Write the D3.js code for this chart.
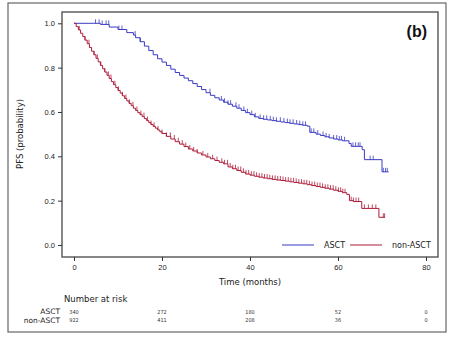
<!DOCTYPE html>
<html>
<head>
<meta charset="utf-8">
<script src="https://cdn.jsdelivr.net/npm/d3@7"></script>
<style>
  body { margin: 0; background: #fff; }
  svg { font-family: "DejaVu Sans", sans-serif; }
</style>
</head>
<body>
<div id="chart"></div>
<script>
// kaplan-meier curves, points (months, probability)
const asctTime = [0, 4.5, 6, 8, 10, 12, 13.5, 14, 15, 16, 17, 18, 19, 20, 21, 22, 23, 24, 25, 26, 27, 28, 29, 30, 31, 32, 33, 34, 35, 36, 37, 38, 39, 40, 41, 42, 43, 44, 45, 46, 47, 48, 49, 50, 51, 52, 53, 53.6, 55, 56, 57, 58, 59, 60, 61, 62.5, 63, 65.5, 66, 70, 71.5];
const asctSurv = [1.0, 1.0, 0.995, 0.983, 0.972, 0.958, 0.947, 0.935, 0.917, 0.897, 0.877, 0.858, 0.84, 0.825, 0.81, 0.793, 0.778, 0.765, 0.753, 0.741, 0.728, 0.715, 0.701, 0.687, 0.675, 0.664, 0.654, 0.644, 0.635, 0.626, 0.617, 0.607, 0.597, 0.588, 0.578, 0.571, 0.567, 0.564, 0.561, 0.558, 0.555, 0.552, 0.549, 0.546, 0.543, 0.54, 0.536, 0.508, 0.5, 0.494, 0.488, 0.483, 0.478, 0.474, 0.47, 0.458, 0.445, 0.43, 0.385, 0.33, 0.33];

const nonTime = [0, 0.5, 1, 1.5, 2, 2.5, 3, 3.5, 4, 4.5, 5, 5.5, 6, 6.5, 7, 7.5, 8, 8.5, 9, 9.5, 10, 10.5, 11, 11.5, 12, 12.5, 13, 13.5, 14, 14.5, 15, 15.5, 16, 16.5, 17, 17.5, 18, 18.5, 19, 19.5, 20, 21, 22, 23, 24, 25, 26, 27, 28, 29, 30, 31, 32, 33, 34, 35, 36, 37, 38, 39, 40, 41, 42, 43, 44, 45, 46, 47, 48, 49, 50, 51, 52, 53, 54, 55, 56, 57, 58, 59, 60, 61, 62, 62.6, 63.5, 65.4, 69.3, 70.7];
const nonSurv = [1.0, 0.985, 0.97, 0.955, 0.94, 0.924, 0.908, 0.891, 0.874, 0.858, 0.842, 0.826, 0.81, 0.795, 0.78, 0.765, 0.751, 0.737, 0.723, 0.71, 0.697, 0.685, 0.673, 0.661, 0.65, 0.639, 0.628, 0.617, 0.607, 0.597, 0.588, 0.579, 0.57, 0.561, 0.552, 0.543, 0.535, 0.527, 0.519, 0.511, 0.503, 0.49, 0.478, 0.466, 0.455, 0.444, 0.433, 0.424, 0.415, 0.406, 0.397, 0.389, 0.381, 0.373, 0.366, 0.352, 0.344, 0.336, 0.328, 0.32, 0.315, 0.31, 0.306, 0.302, 0.299, 0.296, 0.293, 0.291, 0.288, 0.285, 0.282, 0.279, 0.276, 0.272, 0.268, 0.264, 0.26, 0.256, 0.252, 0.247, 0.242, 0.236, 0.228, 0.2, 0.196, 0.165, 0.125, 0.125];

// censoring marks
const asctCensor = [4.9, 5.7, 6.4, 7.3, 7.9, 10.2, 10.9, 13.9, 15.1, 30.9, 33.5, 34.2, 35.0, 35.6, 36.8, 37.5, 38.6, 39.4, 40.4, 41.2, 42.3, 43.1, 43.8, 44.6, 45.3, 46.0, 46.9, 47.7, 48.5, 49.1, 49.8, 50.6, 51.3, 52.0, 52.6, 53.9, 54.5, 55.4, 56.6, 57.3, 58.0, 59.0, 59.7, 60.3, 60.8, 61.5, 63.4, 64.0, 64.6, 65.0, 67.3, 68.0, 70.3, 70.8, 71.2];
const nonCensor = [1.2, 2.5, 3.4, 4.6, 5.3, 6.1, 7.0, 7.8, 8.4, 9.3, 10.1, 11.0, 11.8, 12.6, 13.4, 14.3, 15.2, 15.9, 16.7, 17.5, 18.2, 19.1, 20.0, 21.0, 21.9, 22.8, 23.7, 24.6, 25.4, 26.3, 27.2, 28.0, 29.3, 30.4, 31.5, 32.5, 33.6, 34.2, 34.9, 35.5, 36.1, 36.7, 37.3, 37.9, 38.5, 39.1, 39.7, 40.3, 40.9, 41.5, 42.1, 42.7, 43.3, 43.9, 44.5, 45.1, 45.7, 46.3, 46.9, 47.5, 48.1, 48.7, 49.3, 49.9, 50.5, 51.1, 51.7, 52.3, 52.9, 53.5, 54.1, 54.7, 55.3, 55.9, 56.5, 57.1, 57.7, 58.3, 58.9, 59.5, 60.1, 60.6, 61.1, 61.6, 63.0, 63.5, 64.1, 64.7, 66.0, 66.9, 67.8, 68.6, 70.3, 70.6];

// number at risk table
const riskTimes = [0, 20, 40, 60, 80];
const riskAsct = [340, 272, 180, 52, 0];
const riskNon = [922, 411, 208, 36, 0];

const xTicks = [0, 20, 40, 60, 80];
const yTicks = [0.0, 0.2, 0.4, 0.6, 0.8, 1.0];

const W = 449, H = 340;
const blue = "#3a3ac4", red = "#ad1c3a";

const svg = d3.select("#chart").append("svg").attr("width", W).attr("height", H);

// outer frame
svg.append("rect").attr("x", 8).attr("y", 3).attr("width", 438).attr("height", 329)
  .attr("fill", "none").attr("stroke", "#666").attr("stroke-width", 1.2);

const plot = { left: 62, top: 12, right: 438, bottom: 257 };

const x = d3.scaleLinear().domain([0, 80]).range([74, 426]);
const y = d3.scaleLinear().domain([0, 1]).range([245, 23.3]);

// plot box
svg.append("rect").attr("x", plot.left).attr("y", plot.top)
  .attr("width", plot.right - plot.left).attr("height", plot.bottom - plot.top)
  .attr("fill", "none").attr("stroke", "#555").attr("stroke-width", 1.4);

// axes
const gx = svg.append("g").attr("transform", `translate(0,${plot.bottom})`)
  .call(d3.axisBottom(x).tickValues(xTicks).tickFormat(d3.format("d")).tickSize(4).tickSizeOuter(0));
gx.select(".domain").remove();
gx.selectAll("text").attr("font-size", 7.5).attr("fill", "#222").attr("dy", "0.85em");
gx.selectAll("line").attr("stroke", "#333");

const gy = svg.append("g").attr("transform", `translate(${plot.left},0)`)
  .call(d3.axisLeft(y).tickValues(yTicks).tickFormat(d3.format(".1f")).tickSize(4).tickSizeOuter(0));
gy.select(".domain").remove();
gy.selectAll("text").attr("font-size", 7.5).attr("fill", "#222");
gy.selectAll("line").attr("stroke", "#333");

svg.append("text").attr("x", 250).attr("y", 284.5).attr("text-anchor", "middle")
  .attr("font-size", 8.5).attr("fill", "#222").text("Time (months)");
svg.append("text").attr("transform", "translate(22.5,134) rotate(-90)").attr("text-anchor", "middle")
  .attr("font-size", 8.5).attr("fill", "#222").text("PFS (probability)");

// (b) label
svg.append("text").attr("x", 427).attr("y", 37).attr("text-anchor", "end")
  .attr("font-size", 16).attr("font-weight", "bold").attr("font-family", "Liberation Sans, Arial, sans-serif")
  .attr("fill", "#111").text("(b)");

// curves
const series = [
  { time: asctTime, surv: asctSurv, censor: asctCensor, color: blue },
  { time: nonTime, surv: nonSurv, censor: nonCensor, color: red }
];

const line = d3.line().x(d => x(d[0])).y(d => y(d[1])).curve(d3.curveStepAfter);

series.forEach(s => {
  const pts = s.time.map((t, i) => [t, s.surv[i]]);
  svg.append("path").datum(pts).attr("d", line)
    .attr("fill", "none").attr("stroke", s.color).attr("stroke-width", 1);

  // survival value at a censoring time
  const at = t => {
    const i = d3.bisectRight(s.time, t) - 1;
    return s.surv[Math.max(0, i)];
  };
  svg.append("g").selectAll("line").data(s.censor).join("line")
    .attr("x1", d => x(d)).attr("x2", d => x(d))
    .attr("y1", d => y(at(d))).attr("y2", d => y(at(d)) - 4)
    .attr("stroke", s.color).attr("stroke-width", 0.8);
});

// legend
const leg = svg.append("g");
leg.append("line").attr("x1", 282).attr("x2", 314).attr("y1", 245).attr("y2", 245)
  .attr("stroke", blue).attr("stroke-width", 1);
leg.append("text").attr("x", 324).attr("y", 248).attr("font-size", 8).attr("fill", "#222").text("ASCT");
leg.append("line").attr("x1", 350).attr("x2", 382).attr("y1", 245).attr("y2", 245)
  .attr("stroke", red).attr("stroke-width", 1);
leg.append("text").attr("x", 392).attr("y", 248).attr("font-size", 8).attr("fill", "#222").text("non-ASCT");

// number at risk
svg.append("text").attr("x", 64).attr("y", 302).attr("font-size", 8.5).attr("fill", "#222").text("Number at risk");
const rows = [
  { name: "ASCT", vals: riskAsct, yy: 314 },
  { name: "non-ASCT", vals: riskNon, yy: 322.5 }
];
rows.forEach(r => {
  svg.append("text").attr("x", 60).attr("y", r.yy).attr("text-anchor", "end")
    .attr("font-size", 7.5).attr("fill", "#222").text(r.name);
  svg.append("g").selectAll("text").data(r.vals).join("text")
    .attr("x", (d, i) => x(riskTimes[i])).attr("y", r.yy - 0.5)
    .attr("text-anchor", "middle").attr("font-size", 5.5)
    .attr("font-family", "DejaVu Sans Condensed, DejaVu Sans, sans-serif")
    .attr("fill", "#333").text(d => d);
});
</script>
</body>
</html>
